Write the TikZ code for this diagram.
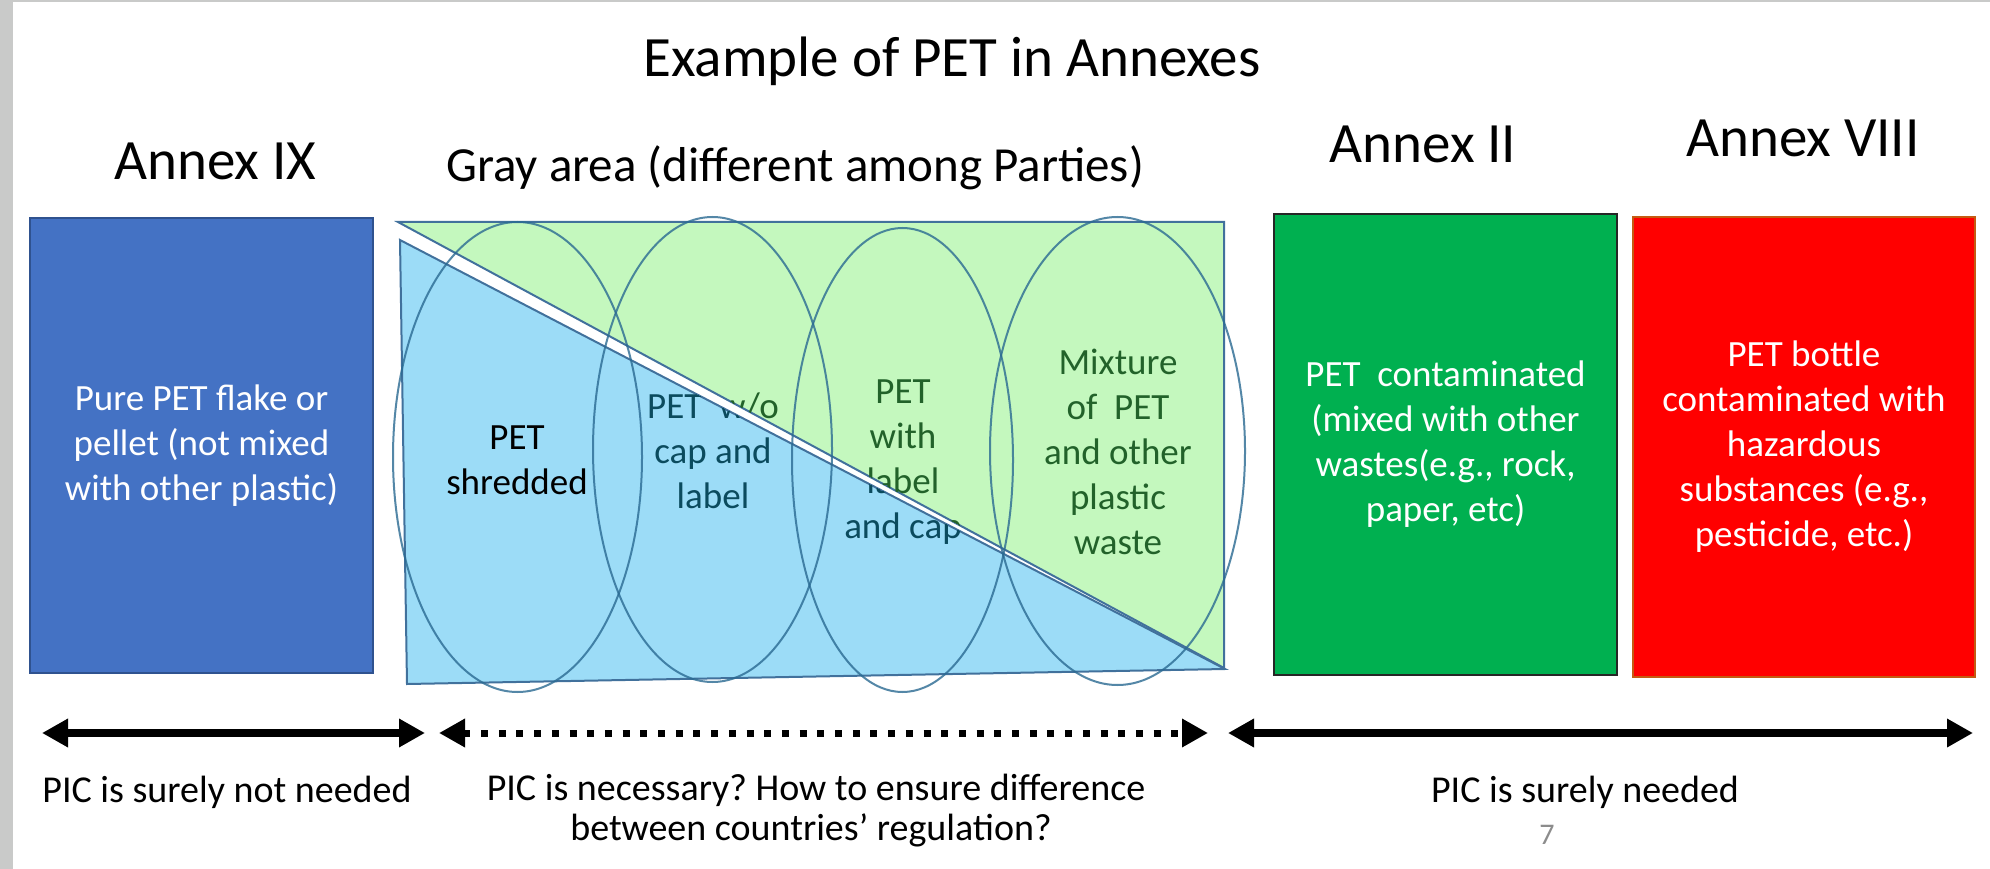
\documentclass[tikz,border=0pt]{standalone}
\usepackage{fontspec}
\setmainfont{Carlito}
\frenchspacing
\usetikzlibrary{arrows.meta,shapes.geometric}
\definecolor{annexblue}{HTML}{4472C4}
\definecolor{annexblueedge}{HTML}{2F528F}
\definecolor{lightgreen}{HTML}{C4F8BE}
\definecolor{lightblue}{HTML}{9CDCF7}
\definecolor{edgeblue}{HTML}{41719C}
\definecolor{annexgreen}{HTML}{00B050}
\definecolor{annexred}{HTML}{FF0000}
\definecolor{rededge}{HTML}{C55A11}
\definecolor{slidegray}{HTML}{C9CAC9}
\definecolor{ringcol}{HTML}{2A6A92}
\definecolor{txtgreen}{HTML}{22622A}
\definecolor{txtteal}{HTML}{0B4B5E}
\definecolor{pagenumcol}{HTML}{8C8C8C}

\newcommand{\ringtexts}[1]{%
  \node[ringtext] (wo#1) at (713,451) {PET\ \ w/o\\cap and\\label};
  \node[ringtext] (with#1) at (903,462) {PET\\with\\label\\and cap};
  \node[ringtext] (mix#1) at (1118,452) {Mixture\\of\ \ PET\\and other\\plastic\\waste};
}

\begin{document}
\begin{tikzpicture}[x=1pt,y=-1pt,
  bigtitle/.style={anchor=base, inner sep=0, font=\fontsize{57}{68}\selectfont},
  subtitle/.style={anchor=base, inner sep=0, font=\fontsize{49}{58}\selectfont},
  annexbox/.style={draw, line width=2, inner sep=0, text=white, align=center,
    font=\fontsize{37}{45}\selectfont},
  ringtext/.style={inner sep=0, align=center, font=\fontsize{37}{45}\selectfont},
  ring/.style={ellipse, draw=ringcol, draw opacity=0.8, line width=2, inner sep=0},
  bottomtext/.style={anchor=base, inner sep=0, font=\fontsize{38}{40}\selectfont},
  bigarrow/.style={{Triangle[length=26pt,width=27pt]}-{Triangle[length=26pt,width=27pt]}, line width=8},
  dotarrow/.style={bigarrow, line width=7, dash pattern=on 7pt off 10.7pt}
]
\useasboundingbox (0,0) rectangle (1990,869);
\fill[white] (0,0) rectangle (1990,869);
\fill[slidegray] (0,0) rectangle (13,869);
\fill[slidegray] (0,0) rectangle (1990,2);

% titles
\node[bigtitle] (title) at (952,77) {Example of PET in Annexes};
\node[bigtitle] (ixlabel) at (215.5,180) {Annex IX};
\node[subtitle] (graylabel) at (795,182) {Gray area (different among Parties)};
\node[bigtitle] (iilabel) at (1423,163) {Annex II};
\node[bigtitle] (viiilabel) at (1803,157) {Annex VIII};

% side boxes
\node[annexbox, fill=annexblue, draw=annexblueedge, minimum width=343, minimum height=455]
  (ix) at (201.5,445.5) {Pure PET flake or\\pellet (not mixed\\with other plastic)};
\node[annexbox, fill=annexgreen, draw=black!85, minimum width=343, minimum height=461]
  (ii) at (1445.5,444.5) {PET\ \ contaminated\\(mixed with other\\wastes(e.g., rock,\\paper, etc)};
\node[annexbox, fill=annexred, draw=rededge, line width=1.5, minimum width=342, minimum height=460]
  (viii) at (1804,447) {PET bottle\\contaminated with\\hazardous\\substances (e.g.,\\pesticide, etc.)};

% gray area triangles
\filldraw[fill=lightgreen, draw=edgeblue, line width=2]
  (398,222) coordinate (gtl) -- (1224,222) coordinate (gtr) -- (1224,668) coordinate (gbr) -- cycle;
\filldraw[fill=lightblue, draw=edgeblue, line width=2]
  (400,240) coordinate (btl) -- (1225,669) coordinate (bbr) -- (407,684) coordinate (bbl) -- cycle;

% texts, tinted by the region they sit in
\begin{scope}[ringtext/.append style={text=txtgreen}]
  \clip (gtl) -- (gtr) -- (gbr) -- cycle;
  \ringtexts{g}
\end{scope}
\begin{scope}[ringtext/.append style={text=txtteal}]
  \clip (btl) -- (bbr) -- (bbl) -- cycle;
  \ringtexts{b}
\end{scope}

% ellipses
\node[ring, minimum width=249, minimum height=470] (e1) at (517.5,457) {};
\node[ring, minimum width=239, minimum height=465] (e2) at (712.5,449.5) {};
\node[ring, minimum width=221, minimum height=464] (e3) at (902.5,460) {};
\node[ring, minimum width=255, minimum height=468] (e4) at (1117.5,451) {};
\node[ringtext, text=black] (shred) at (517,460) {PET\\shredded};

% arrows
\coordinate (a1l) at (42,733);
\coordinate (a1r) at (425,733);
\coordinate (a2l) at (439,733);
\coordinate (a2r) at (1208,733);
\coordinate (a3l) at (1228,733);
\coordinate (a3r) at (1973,733);
\draw[bigarrow] (a1l) -- (a1r);
\draw[dotarrow] (a2l) -- (a2r);
\draw[bigarrow] (a3l) -- (a3r);

% bottom texts
\node[bottomtext] (notneeded) at (227,802) {PIC is surely not needed};
\node[bottomtext] (grayq1) at (816,800) {PIC is necessary? How to ensure difference};
\node[bottomtext] (grayq2) at (811,840) {between countries’ regulation?};
\node[bottomtext] (needed) at (1585,802) {PIC is surely needed};
\node[anchor=base, inner sep=0, font=\fontsize{30}{36}\selectfont, text=pagenumcol] (pagenum) at (1547,844) {7};
\end{tikzpicture}
\end{document}
